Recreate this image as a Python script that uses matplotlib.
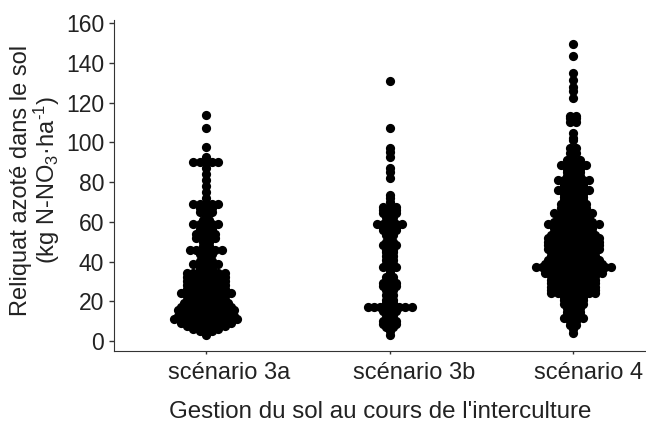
import matplotlib
matplotlib.use('Agg')
import matplotlib.pyplot as plt
import numpy as np

plt.rcParams['font.family'] = ['Liberation Sans', 'DejaVu Sans']
plt.rcParams['mathtext.fontset'] = 'custom'
plt.rcParams['mathtext.rm'] = 'Liberation Sans'
plt.rcParams['mathtext.default'] = 'regular'

# valeurs : niveau de reliquat, nombre de points au niveau
y_3a = [113.7, 107, 97.8, 92.7, 90, 87, 84, 81, 78, 75, 72, 69, 67, 65, 63, 61, 58.9, 56.5, 54, 52, 50,
        48, 45.8, 44, 42, 40.5, 39, 37, 35.5, 34, 32, 30, 28, 26, 24.3, 22.5, 20.6, 19, 17, 15.6, 14,
        12.5, 11, 9, 7.5, 6, 5, 3]
n_3a = [1, 1, 1, 1, 5, 1, 1, 1, 1, 1, 1, 5, 3, 3, 1, 2, 5, 3, 4, 4, 2,
        2, 6, 3, 2, 3, 5, 3, 3, 7, 7, 7, 7, 7, 9, 7, 7, 8, 9, 10, 9,
        10, 11, 9, 7, 5, 3, 1]

y_3b = [130.8, 107, 97, 95, 92.6, 87, 85, 82, 73.5, 72, 70, 67.6, 66, 64.5, 62.5, 60.5, 58.9, 57, 55.8,
        53.5, 52, 50, 48.3, 46, 45, 43, 41, 39, 37.4, 35.5, 34, 32, 29.3, 27.5, 25.6, 23, 20.6, 19, 17,
        15, 13, 10.2, 8.5, 7, 5, 3]
n_3b = [1, 1, 1, 1, 1, 1, 1, 1, 1, 1, 1, 3, 3, 3, 2, 2, 5, 3, 3,
        2, 1, 2, 3, 2, 2, 2, 2, 2, 3, 1, 1, 2, 3, 3, 2, 2, 2, 2, 8,
        3, 2, 3, 3, 2, 1, 1]

y_4 = [149.4, 143.4, 134.7, 131.4, 128, 126, 122.4, 113, 112, 110.4, 104.5, 102, 101, 97, 94.8, 91, 88.5,
       86.5, 85, 83, 81, 79, 78, 76, 74, 72.6, 71, 69, 67, 64.6, 63, 61.5, 60, 58.9, 57, 55, 53.5,
       51.7, 50, 48.3, 46.5, 45, 43, 40.8, 39, 37.4, 36, 34.4, 32.5, 30.7, 29, 27.4, 25.5, 24, 22,
       20.6, 18.5, 16.5, 14.5, 13, 11.6, 10, 8, 6, 4]
n_4 = [1, 1, 1, 1, 1, 1, 1, 2, 2, 2, 1, 1, 1, 2, 2, 3, 5,
       3, 3, 3, 6, 4, 4, 6, 4, 4, 4, 5, 5, 7, 6, 6, 7, 9, 7, 7, 8,
       9, 9, 9, 9, 8, 8, 9, 10, 13, 10, 10, 8, 8, 8, 8, 8, 8, 4,
       4, 4, 3, 3, 3, 4, 2, 2, 1, 1]

scenarios = ['scénario 3a', 'scénario 3b', 'scénario 4']
yticks = [0, 20, 40, 60, 80, 100, 120, 140, 160]

fig = plt.figure(figsize=(6.46, 4.23), dpi=100)
ax = fig.add_axes([114 / 646, 72 / 423, 531 / 646, 331 / 423])

# ecart horizontal entre deux points d'une meme ligne
step = 0.0343
for pos, ys, ns in [(1, y_3a, n_3a), (2, y_3b, n_3b), (3, y_4, n_4)]:
    for y, n in zip(ys, ns):
        xs = pos + (np.arange(n) - (n - 1) / 2) * step
        ax.scatter(xs, [y] * n, s=44, color='black', linewidths=0, clip_on=False)

ax.set_xlim(0.5, 3.39)
ax.set_ylim(-5, 161.5)

ax.spines['top'].set_visible(False)
ax.spines['right'].set_visible(False)
ax.spines['left'].set_color('#333333')
ax.spines['bottom'].set_color('#333333')

ax.set_yticks(yticks)
ax.tick_params(axis='y', length=3.5, width=1, color='#333333', labelsize=16.5, pad=3.5, labelcolor='#222222')
ax.set_xticks([1, 2, 3])
ax.set_xticklabels([])
ax.tick_params(axis='x', length=2.5, width=1, color='#333333')

# les etiquettes ne sont pas centrees sur les nuages : decalage a la main
label_dx = [16.5, 18, 11]
for pos, lab, dx in zip([1, 2, 3], scenarios, label_dx):
    ax.annotate(lab, xy=(pos, 0), xycoords=ax.get_xaxis_transform(), xytext=(dx, -15.5),
                textcoords='offset points', ha='center', va='center', fontsize=17, color='#222222')

fig.text(380.5 / 646, 1 - 412 / 423, "Gestion du sol au cours de l'interculture",
         ha='center', va='center', fontsize=17.4, color='#222222')
fig.text(36 / 646, 1 - 180 / 423, "Reliquat azoté dans le sol\n(kg N-NO$_3$·ha$^{\\text{-}1}$)",
         ha='center', va='center', rotation=90, fontsize=17, color='#222222', linespacing=1.0)

fig.savefig('out.png', dpi=100)
